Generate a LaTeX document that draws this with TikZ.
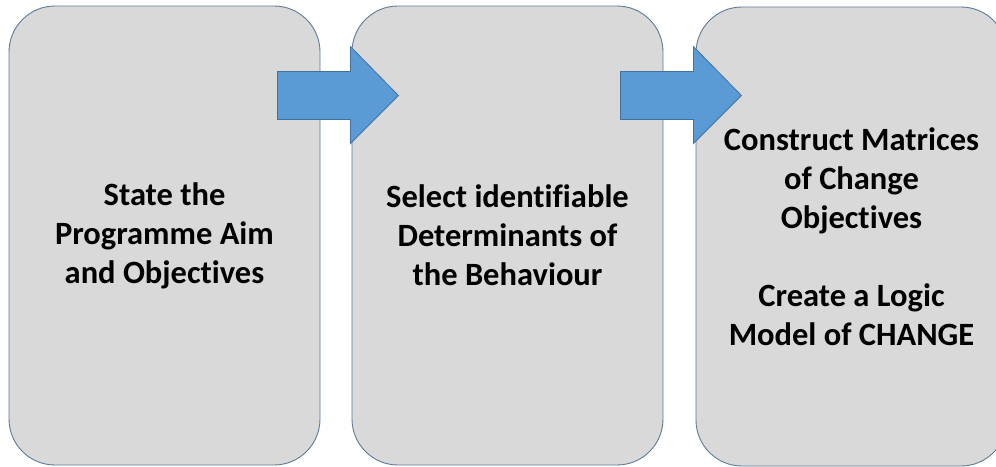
\documentclass[tikz,border=0pt]{standalone}
\usepackage{fontspec}
\setmainfont[Ligatures=NoCommon]{Carlito}

\definecolor{boxfill}{HTML}{D9D9D9}
\definecolor{boxedge}{HTML}{5F7A96}
\definecolor{arrowfill}{HTML}{5B9BD5}
\definecolor{arrowedge}{HTML}{41719C}

\begin{document}
\begin{tikzpicture}[x=1pt, y=-1pt,
    stepbox/.style={draw=boxedge, fill=boxfill, line width=0.9pt,
        rounded corners=46pt, minimum width=311pt, minimum height=459pt,
        inner sep=0pt, align=center,
        font=\bfseries\fontsize{32.5}{39}\selectfont},
    blockarrow/.style={draw=arrowedge, fill=arrowfill, line width=0.8pt}]

    % picture frame, 996 x 466
    \useasboundingbox (0,0) rectangle (996,466);
    \clip (0,0) rectangle (996,466);

    % the three stages
    \node[stepbox] (box1) at (164.5,235.5)
        {State the\\Programme Aim\\and Objectives};
    \node[stepbox] (box2) at (507.5,235.5)
        {Select identifiable\\Determinants of\\the Behaviour};
    \node[stepbox] (box3) at (851.5,236.5)
        {Construct Matrices\\of Change\\Objectives\\[39pt]Create a Logic\\Model of CHANGE};

    % block arrows between the stages
    \foreach \a in {box1, box2} {
        \draw[blockarrow] ([shift={(-43,66)}]\a.north east)
            -- ++(73,0) -- ++(0,-25) -- ++(48,49)
            -- ++(-48,48) -- ++(0,-24) -- ++(-73,0) -- cycle;
    }
\end{tikzpicture}
\end{document}
